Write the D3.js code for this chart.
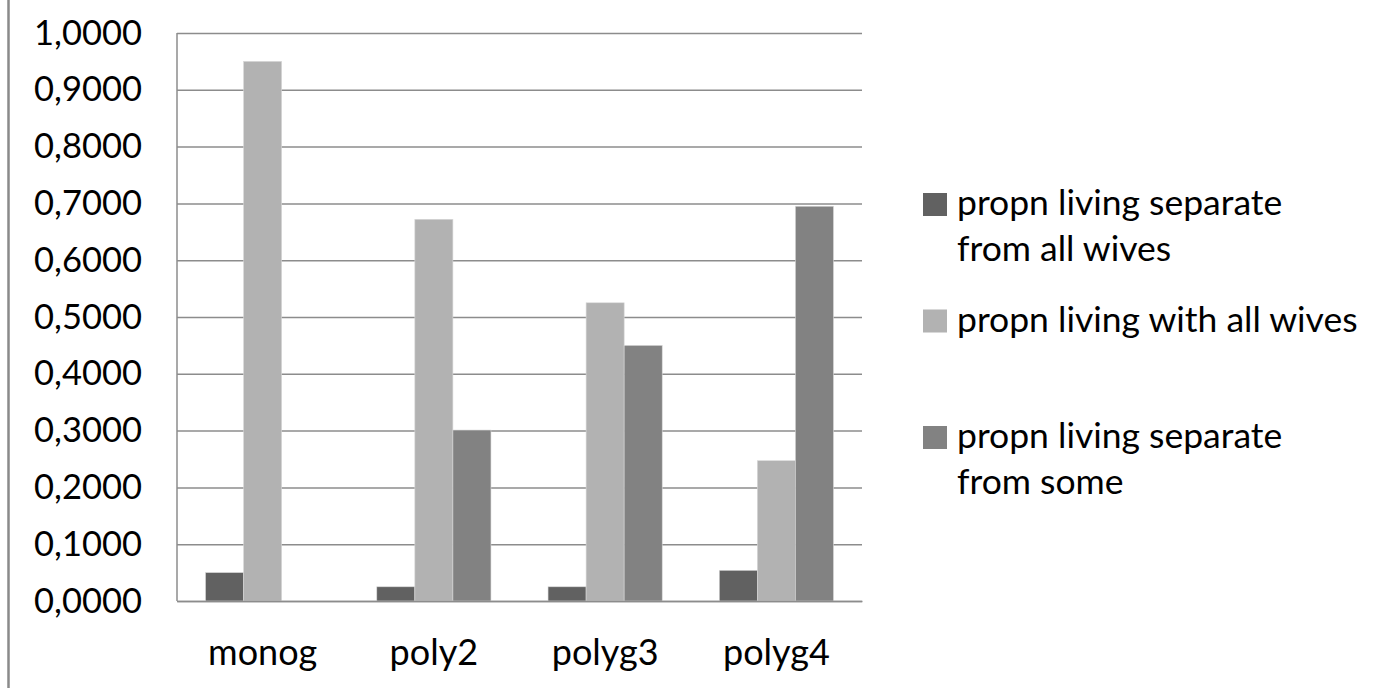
<!DOCTYPE html>
<html>
<head>
<meta charset="utf-8">
<script src="https://cdn.jsdelivr.net/npm/d3@7"></script>
<style>
  body { margin: 0; background: #fff; }
  text { font-family: Lato, "Open Sans", sans-serif; fill: #000; }
</style>
</head>
<body>
<div id="chart"></div>
<script>
// Categories and series
var categories = ["monog", "poly2", "polyg3", "polyg4"];
var seriesNames = [
    ["propn living separate", "from all wives"],
    ["propn living with all wives"],
    ["propn living separate", "from some"]
];
var separateAll = [0.050, 0.025, 0.025, 0.054];
var withAll = [0.950, 0.672, 0.525, 0.247];
var separateSome = [0.000, 0.301, 0.450, 0.695];
var yTicks = [0, 0.1, 0.2, 0.3, 0.4, 0.5, 0.6, 0.7, 0.8, 0.9, 1.0];

var seriesValues = [separateAll, withAll, separateSome];
var colors = ["#616161", "#b2b2b2", "#828282"];

var svgWidth = 1388, svgHeight = 688;
var margin = {top: 33, right: 526, bottom: 87, left: 177};
var chartWidth = svgWidth - margin.left - margin.right;
var chartHeight = svgHeight - margin.top - margin.bottom;

var svg = d3.select("#chart").append("svg")
    .attr("width", svgWidth)
    .attr("height", svgHeight);

// outer frame edge on the left
svg.append("line")
    .attr("x1", 8.5).attr("x2", 8.5)
    .attr("y1", 0).attr("y2", svgHeight)
    .attr("stroke", "#8a8a8a")
    .attr("stroke-width", 2.5);

var chartGroup = svg.append("g")
    .attr("transform", `translate(${margin.left}, ${margin.top})`);

var xScale = d3.scaleBand()
    .domain(categories)
    .range([0, chartWidth]);

// Excel style gap: 150% of a bar width
var barW = xScale.bandwidth() / 4.5;
var xInner = d3.scaleBand()
    .domain(d3.range(seriesValues.length))
    .range([barW * 0.75, barW * 0.75 + barW * 3]);

var yScale = d3.scaleLinear()
    .domain([0, 1])
    .range([chartHeight, 0]);

var fmt = d3.formatLocale({decimal: ",", thousands: ".", grouping: [3], currency: ["", ""]}).format(".4f");

// y axis with gridlines
var yAxis = d3.axisLeft(yScale)
    .tickValues(yTicks)
    .tickSize(-chartWidth)
    .tickPadding(35)
    .tickFormat(fmt);

var yG = chartGroup.append("g").call(yAxis);
yG.select(".domain").remove();
yG.selectAll(".tick line")
    .attr("stroke", "#8c8c8c")
    .attr("stroke-width", 1.5);
yG.selectAll(".tick text")
    .attr("font-size", "34.5px")
    .attr("font-family", "Lato, sans-serif")
    .attr("fill", "#000");

// left border of plot area
chartGroup.append("line")
    .attr("x1", 0).attr("x2", 0)
    .attr("y1", 0).attr("y2", chartHeight)
    .attr("stroke", "#8c8c8c")
    .attr("stroke-width", 1.5);

// bars
var groups = chartGroup.selectAll(".cat")
    .data(categories)
    .enter()
    .append("g")
    .attr("transform", function(d) { return `translate(${xScale(d)}, 0)`; });

groups.selectAll("rect")
    .data(function(d, i) {
        return seriesValues.map(function(s, j) { return {s: j, v: s[i]}; });
    })
    .enter()
    .append("rect")
    .attr("x", function(d) { return xInner(d.s); })
    .attr("width", xInner.bandwidth())
    .attr("y", function(d) { return yScale(d.v); })
    .attr("height", function(d) { return chartHeight - yScale(d.v); })
    .attr("fill", function(d) { return colors[d.s]; })
    .attr("stroke", "#d8d8d8")
    .attr("stroke-width", 0.6);

// x axis
var xAxis = d3.axisBottom(xScale).tickSize(0).tickPadding(38);
var xG = chartGroup.append("g")
    .attr("transform", `translate(0, ${chartHeight})`)
    .call(xAxis);
xG.select(".domain").attr("stroke", "#8c8c8c").attr("stroke-width", 1.5);
xG.selectAll(".tick text")
    .attr("font-size", "36px")
    .attr("font-family", "Lato, sans-serif")
    .attr("fill", "#000");

// legend
var legend = svg.append("g")
    .attr("transform", "translate(923, 215)");

var entries = legend.selectAll(".entry")
    .data(seriesNames)
    .enter()
    .append("g")
    .attr("transform", function(d, i) { return `translate(0, ${i * 116.5})`; });

entries.append("rect")
    .attr("x", 0)
    .attr("y", -22)
    .attr("width", 24)
    .attr("height", 23)
    .attr("fill", function(d, i) { return colors[i]; });

entries.append("text")
    .attr("x", 34)
    .attr("y", 0)
    .attr("font-size", "35.5px")
    .selectAll("tspan")
    .data(function(d) { return d; })
    .enter()
    .append("tspan")
    .attr("x", 34)
    .attr("dy", function(d, i) { return i === 0 ? 0 : 46; })
    .text(function(d) { return d; });
</script>
</body>
</html>
